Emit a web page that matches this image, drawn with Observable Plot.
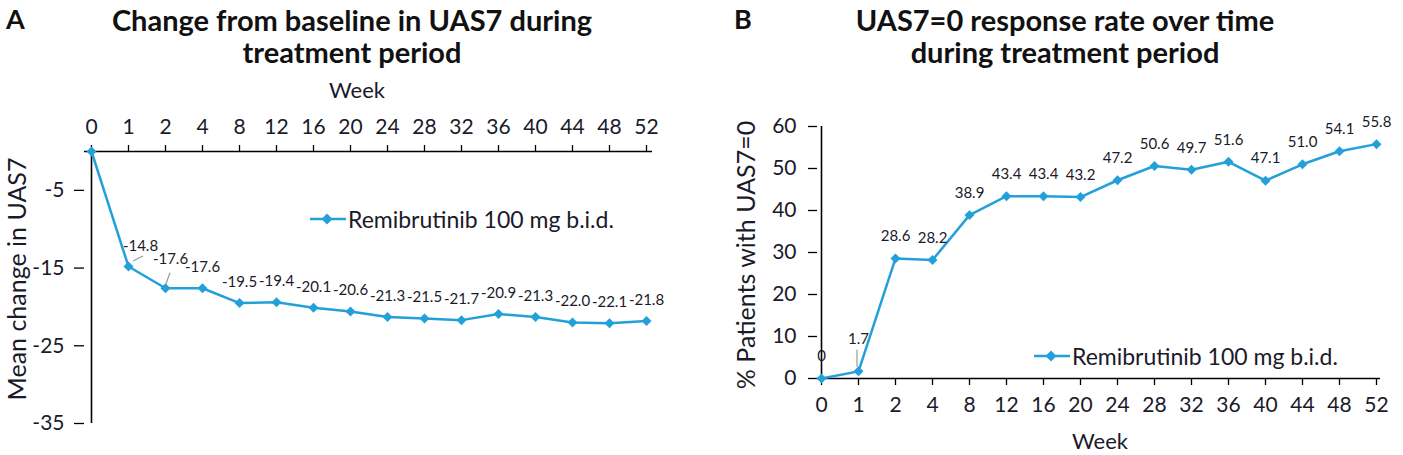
<!DOCTYPE html>
<html><head><meta charset="utf-8">
<script src="https://cdn.jsdelivr.net/npm/d3@7"></script>
<script src="https://cdn.jsdelivr.net/npm/@observablehq/plot@0.6"></script>
<style>
body{margin:0;background:#fff;font-family:Lato,"Open Sans",sans-serif;}
#wrap{position:relative;width:1403px;height:455px;overflow:hidden;background:#fff;}
.abs{position:absolute;}
.title{font-weight:bold;font-size:29px;text-align:center;line-height:32px;color:#111;white-space:nowrap;}
.panel{font-weight:bold;font-size:27px;line-height:32px;color:#111;}
.legend{font-size:23px;color:#1a1a2a;display:flex;align-items:center;white-space:nowrap;line-height:28px;}
.legend svg{margin-right:2px;}
.axlab{font-size:22px;color:#1a1a2a;white-space:nowrap;line-height:26px;text-align:center;}
.ylab{font-size:25px;color:#1a1a2a;white-space:nowrap;line-height:30px;text-align:center;width:400px;transform:rotate(-90deg);}
g[aria-label="x-axis tick label"]{font-size:21px !important;}
g[aria-label="y-axis tick label"]{font-size:21px !important;}
</style></head><body>
<div id="wrap">
  <div id="chartA" class="abs" style="left:0;top:0"></div>
  <div id="chartB" class="abs" style="left:700px;top:0"></div>
  <div class="abs panel" style="left:6px;top:3px">A</div>
  <div class="abs title" style="left:102px;width:500px;top:4px">Change from baseline in UAS7 during<br>treatment period</div>
  <div class="abs panel" style="left:734px;top:3px">B</div>
  <div class="abs title" style="left:815px;width:500px;top:4px">UAS7=0 response rate over time<br>during treatment period</div>
  <div id="xlabA" class="abs axlab" style="left:307px;width:100px;top:77px"></div>
  <div id="xlabB" class="abs axlab" style="left:1050px;width:100px;top:428px"></div>
  <div id="ylabA" class="abs ylab" style="left:-184px;top:264px"></div>
  <div id="ylabB" class="abs ylab" style="left:545px;top:240px"></div>
  <div id="legendA" class="abs legend" style="left:310px;top:205px"></div>
  <div id="legendB" class="abs legend" style="left:1034px;top:342px"></div>
</div>
<script>
// ---- data ----
const weeks = ["0","1","2","4","8","12","16","20","24","28","32","36","40","44","48","52"];
const uas7Change = [0,-14.8,-17.6,-17.6,-19.5,-19.4,-20.1,-20.6,-21.3,-21.5,-21.7,-20.9,-21.3,-22.0,-22.1,-21.8];
const responseRate = [0,1.7,28.6,28.2,38.9,43.4,43.4,43.2,47.2,50.6,49.7,51.6,47.1,51.0,54.1,55.8];
const changeTicks = [-5,-15,-25,-35];
const rateTicks = [0,10,20,30,40,50,60];
const seriesName = "Remibrutinib 100 mg b.i.d.";
const xLabel = "Week";
const yLabelA = "Mean change in UAS7";
const yLabelB = "% Patients with UAS7=0";

// ---- style ----
const blue = "#23A0DA";
const ink = "#1a1a2a";
const font = "Lato, 'Open Sans', sans-serif";

const dA = weeks.map((w,i)=>({week:w, value:uas7Change[i], i}));
const dB = weeks.map((w,i)=>({week:w, value:responseRate[i], i}));
const fmt = v => v === 0 ? "0" : v.toFixed(1);

const chartA = Plot.plot({
  width:700, height:455,
  marginLeft:84, marginRight:48, marginTop:151, marginBottom:32,
  style:{fontFamily:font, fontSize:"21px", color:ink, background:"transparent", overflow:"visible"},
  x:{type:"point", domain:weeks, padding:0, axis:null},
  y:{domain:[-35,0], axis:null},
  marks:[
    Plot.axisX({anchor:"top", tickSize:7, tickPadding:11, label:null, fontSize:21, stroke:"#000", strokeWidth:1.3}),
    Plot.axisY({ticks:changeTicks, tickSize:10, tickPadding:10, tickFormat:d=>String(d), label:null, fontSize:21, stroke:"#000", strokeWidth:1.3}),
    Plot.ruleY([0], {stroke:"#000", strokeWidth:1.6}),
    Plot.ruleX([weeks[0]], {stroke:"#000", strokeWidth:1.6}),
    Plot.line(dA, {x:"week", y:"value", stroke:blue, strokeWidth:2.5}),
    Plot.dot(dA, {x:"week", y:"value", symbol:"diamond2", fill:blue, stroke:"none", r:4.5}),
    Plot.text(dA.filter(d=>d.i>2), {x:"week", y:"value", text:d=>fmt(d.value), dy:-21, fontSize:15, fill:ink}),
    Plot.text(dA.filter(d=>d.i===1), {x:"week", y:"value", text:d=>fmt(d.value), dx:12, dy:-20, fontSize:15, fill:ink}),
    Plot.text(dA.filter(d=>d.i===2), {x:"week", y:"value", text:d=>fmt(d.value), dx:5, dy:-29, fontSize:15, fill:ink})
  ]
});

const chartB = Plot.plot({
  width:703, height:455,
  marginLeft:117, marginRight:23, marginTop:126, marginBottom:77,
  style:{fontFamily:font, fontSize:"21px", color:ink, background:"transparent", overflow:"visible"},
  x:{type:"point", domain:weeks, padding:0, axis:null},
  y:{domain:[0,60], axis:null},
  marks:[
    Plot.axisX({anchor:"bottom", tickSize:7, tickPadding:12, label:null, fontSize:21, stroke:"#000", strokeWidth:1.3}),
    Plot.axisY({ticks:rateTicks, tickSize:9, tickPadding:12, label:null, fontSize:21, stroke:"#000", strokeWidth:1.3}),
    Plot.ruleY([0], {stroke:"#000", strokeWidth:1.6}),
    Plot.ruleX([weeks[0]], {stroke:"#000", strokeWidth:1.6}),
    Plot.line(dB, {x:"week", y:"value", stroke:blue, strokeWidth:2.5}),
    Plot.dot(dB, {x:"week", y:"value", symbol:"diamond2", fill:blue, stroke:"none", r:4.5}),
    Plot.text(dB.filter(d=>d.i!==1), {x:"week", y:"value", text:d=>fmt(d.value), dy:-22, fontSize:15, fill:ink}),
    Plot.text(dB.filter(d=>d.i===1), {x:"week", y:"value", text:d=>fmt(d.value), dy:-32, fontSize:15, fill:ink})
  ]
});

document.getElementById("chartA").appendChild(chartA);
document.getElementById("chartB").appendChild(chartB);

// leader lines for displaced labels, positioned via the charts' scales
function leader(chart, d, x1o, y1o, x2o, y2o){
  const px = chart.scale("x").apply(d.week), py = chart.scale("y").apply(d.value);
  d3.select(chart).append("line")
    .attr("x1", px+x1o).attr("y1", py+y1o).attr("x2", px+x2o).attr("y2", py+y2o)
    .attr("stroke", "#9a9a9a").attr("stroke-width", 1.2);
}
leader(chartA, dA[1], 5, -5, 15, -10);
leader(chartA, dA[2], 1, -4, 5, -15);
leader(chartB, dB[1], -1, -4, -1, -21);

// axis titles
document.getElementById("xlabA").textContent = xLabel;
document.getElementById("xlabB").textContent = xLabel;
document.getElementById("ylabA").textContent = yLabelA;
document.getElementById("ylabB").textContent = yLabelB;

// legends
function legend(id){
  const el = document.getElementById(id);
  el.innerHTML = `<svg width="36" height="14"><line x1="0" y1="7" x2="36" y2="7" stroke="${blue}" stroke-width="2.5"/><polygon points="17,1.5 22.5,7 17,12.5 11.5,7" fill="${blue}"/></svg><span>${seriesName}</span>`;
}
legend("legendA");
legend("legendB");
</script>
</body></html>
